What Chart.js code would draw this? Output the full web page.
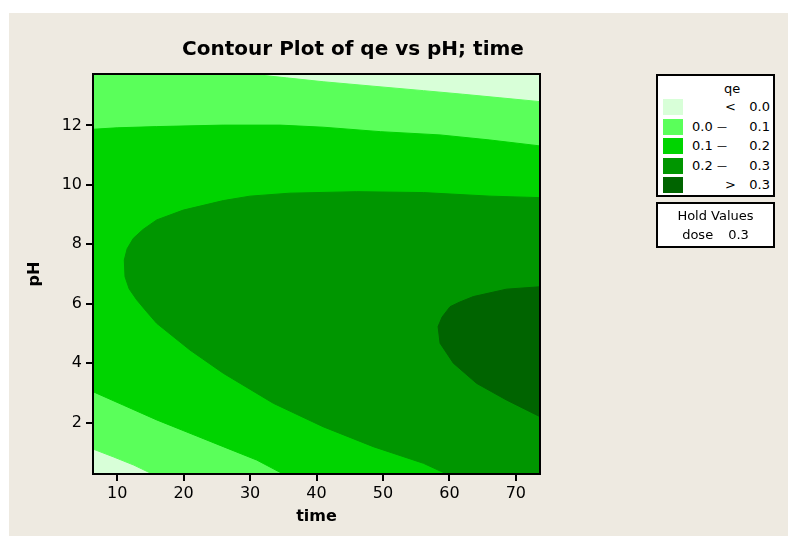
<!DOCTYPE html>
<html>
<head>
<meta charset="utf-8">
<title>Contour Plot of qe vs pH; time</title>
<script src="https://cdn.jsdelivr.net/npm/chart.js@4.4.1/dist/chart.umd.min.js"></script>
<style>
  body { margin: 0; background: #fff; font-family: "DejaVu Sans", Verdana, sans-serif; color: #000; }
  #wrap { position: relative; width: 788px; height: 536px; overflow: hidden; }
  #panel { position: absolute; left: 9px; top: 13px; right: 0; bottom: 0; background: #eeeae1; }
  #plot { position: absolute; left: 0; top: 0; }
  .box { position: absolute; left: 656px; width: 119px; box-sizing: border-box; background: #fff; border: 2px solid #000; font-size: 13px; line-height: 16px; }
  .box div { position: absolute; white-space: nowrap; }
  #legend { top: 74px; height: 123px; }
  #hold { top: 202px; height: 46px; }
</style>
</head>
<body>
<div id="wrap">
  <div id="panel"></div>
  <canvas id="plot" width="788" height="536"></canvas>
  <div id="legend" class="box"></div>
  <div id="hold" class="box"></div>
</div>
<script>
// axis ranges (design space) and ticks
const timeRange = [6.36, 73.64];
const phRange = [0.27, 13.73];
const timeTicks = [10, 20, 30, 40, 50, 60, 70];
const phTicks = [2, 4, 6, 8, 10, 12];

// contour levels + colours (lowest -> highest)
const qeBreaks = [0.0, 0.1, 0.2, 0.3];
const qeColors = ['#d8ffd8', '#5aff5a', '#00d400', '#009600', '#006400'];

// contour lines, [time, pH]
const qe0Top = [[30.0, 13.73], [35.5, 13.6], [41.0, 13.47], [48.5, 13.32], [56.1, 13.17], [62.0, 13.05], [67.6, 12.93], [73.64, 12.8]];
const qe0Bottom = [[6.36, 1.11], [9.5, 0.84], [12.5, 0.57], [15.3, 0.27]];
const qe01Top = [[6.36, 11.87], [10.0, 11.92], [15.95, 11.96], [25.97, 12.01], [34.5, 12.01], [41.0, 11.94], [49.6, 11.79], [58.6, 11.68], [66.1, 11.51], [73.64, 11.31]];
const qe01Bottom = [[6.36, 3.04], [10.9, 2.59], [15.95, 2.09], [20.96, 1.64], [25.97, 1.19], [31.0, 0.74], [35.0, 0.27]];
const qe02 = [[73.64, 9.57], [66.1, 9.62], [56.1, 9.74], [46.05, 9.77], [36.0, 9.72], [30.0, 9.62], [25.97, 9.47], [19.95, 9.15], [15.95, 8.82], [13.9, 8.5], [12.43, 8.2], [11.5, 7.85], [11.07, 7.47], [11.18, 6.91], [11.8, 6.5], [12.94, 6.13], [14.44, 5.73], [15.95, 5.34], [20.96, 4.44], [25.97, 3.66], [33.5, 2.65], [41.0, 1.86], [48.55, 1.19], [56.1, 0.63], [59.6, 0.27]];
const qe03 = [[73.64, 6.57], [68.6, 6.49], [63.6, 6.24], [61.5, 6.05], [60.1, 5.9], [58.9, 5.55], [58.3, 5.23], [58.6, 4.67], [60.6, 4.0], [64.1, 3.32], [68.6, 2.76], [73.64, 2.2]];

// hold value shown under the legend
const holdName = 'dose';
const holdValue = 0.3;

const [tMin, tMax] = timeRange;
const [pMin, pMax] = phRange;
const FONT = '"DejaVu Sans", Verdana, sans-serif';

// filled bands, each one a closed polygon stacked on the previous
const bands = [
  [[tMin, pMin], [tMin, pMax], [tMax, pMax], [tMax, pMin]],
  [[tMin, pMax], ...qe0Top, [tMax, pMin], ...qe0Bottom.slice().reverse()],
  [...qe01Top, [tMax, pMin], ...qe01Bottom.slice().reverse()],
  [...qe02, [tMax, pMin]],
  [...qe03]
];

const frame = {
  id: 'frame',
  afterDatasetsDraw(chart) {
    const { ctx, chartArea: a } = chart;
    ctx.save();
    ctx.strokeStyle = '#000';
    ctx.lineWidth = 2;
    ctx.strokeRect(a.left, a.top, a.right - a.left, a.bottom - a.top);
    ctx.restore();
  },
  afterDraw(chart) {
    const ctx = chart.ctx;
    ctx.save();
    ctx.fillStyle = '#000';
    ctx.font = 'bold 20px ' + FONT;
    ctx.textAlign = 'center';
    ctx.textBaseline = 'alphabetic';
    ctx.fillText('Contour Plot of qe vs pH; time', 353, 55);
    ctx.restore();
  }
};

new Chart(document.getElementById('plot'), {
  type: 'scatter',
  data: {
    datasets: bands.map((pts, i) => ({
      data: pts.map(([x, y]) => ({ x, y })),
      showLine: true,
      fill: 'shape',
      backgroundColor: qeColors[i],
      borderColor: qeColors[i],
      borderWidth: 1,
      pointRadius: 0,
      order: bands.length - i
    }))
  },
  options: {
    responsive: false,
    animation: false,
    events: [],
    layout: { padding: { left: 0, top: 74, right: 248, bottom: 0 } },
    plugins: { legend: { display: false }, tooltip: { enabled: false } },
    scales: {
      x: {
        type: 'linear', min: tMin, max: tMax,
        afterFit: s => { s.height = 62; },
        afterBuildTicks: s => { s.ticks = timeTicks.map(v => ({ value: v })); },
        ticks: { color: '#000', padding: 3, font: { family: FONT, size: 16 } },
        grid: { drawOnChartArea: false, tickLength: 7, lineWidth: 2, color: '#000' },
        border: { display: false },
        title: { display: true, text: 'time', color: '#000', padding: { bottom: 10 }, font: { family: FONT, size: 16, weight: 'bold' } }
      },
      y: {
        type: 'linear', min: pMin, max: pMax,
        afterFit: s => { s.width = 93; },
        afterBuildTicks: s => { s.ticks = phTicks.map(v => ({ value: v })); },
        ticks: { color: '#000', padding: 4, font: { family: FONT, size: 16 } },
        grid: { drawOnChartArea: false, tickLength: 7, lineWidth: 2, color: '#000' },
        border: { display: false },
        title: { display: true, text: 'pH', color: '#000', padding: { top: 25 }, font: { family: FONT, size: 16, weight: 'bold' } }
      }
    }
  },
  plugins: [frame]
});

// legend: box content starts at x 658, y 76 (inside the border)
function put(parent, html, css) {
  const d = document.createElement('div');
  d.innerHTML = html;
  Object.assign(d.style, css);
  parent.appendChild(d);
  return d;
}
const legend = document.getElementById('legend');
put(legend, 'qe', { left: '54px', width: '40px', textAlign: 'center', top: '5px' });
const rows = [['', '<', qeBreaks[0]]];
for (let i = 0; i < qeBreaks.length - 1; i++) rows.push([qeBreaks[i], '—', qeBreaks[i + 1]]);
rows.push(['', '>', qeBreaks[qeBreaks.length - 1]]);
rows.forEach((r, i) => {
  const top = 23 + i * 19.5;
  put(legend, '', { left: '5px', top: top + 'px', width: '20px', height: '16px', background: qeColors[i] });
  if (r[0] !== '') put(legend, r[0].toFixed(1), { left: '34px', top: top + 'px' });
  if (r[1] === '—') put(legend, r[1], { left: '56px', width: '16px', textAlign: 'center', top: top + 'px', fontSize: '10px' });
  else put(legend, r[1], { left: '64.5px', width: '16px', textAlign: 'center', top: top + 'px' });
  put(legend, r[2].toFixed(1), { right: '3px', top: top + 'px' });
});
const hold = document.getElementById('hold');
put(hold, 'Hold Values', { left: '0', width: '115px', textAlign: 'center', top: '4px' });
put(hold, holdName + '<span style="display:inline-block;width:15px"></span>' + holdValue.toFixed(1), { left: '0', width: '115px', textAlign: 'center', top: '23px' });
</script>
</body>
</html>
